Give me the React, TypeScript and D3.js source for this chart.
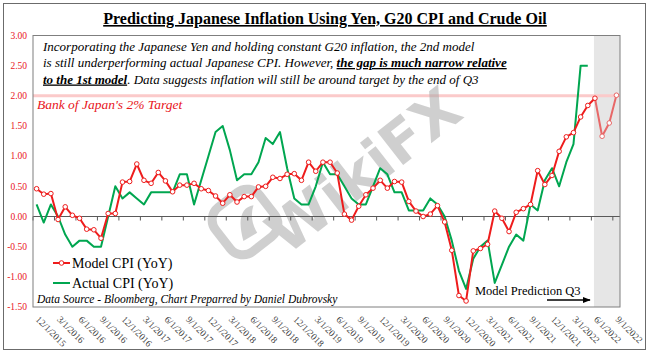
import React from 'react';
import * as d3 from 'd3';

// ---------- DATA ----------
const months = d3.timeMonth.range(new Date(2015, 11, 1), new Date(2022, 9, 1));
const categories: string[] = months.map(d => `${d.getMonth() + 1}/1/${d.getFullYear()}`);

const modelCPI: number[] = [
  0.46, 0.37, 0.38, -0.05, 0.16, 0.02, -0.03, -0.21, -0.22, -0.36, 0.05, 0.05,
  0.57, 0.58, 0.87, 0.60, 0.55, 0.73, 0.59, 0.41, 0.52, 0.52, 0.55, 0.46,
  0.43, 0.34, 0.22, 0.36, 0.24, 0.33, 0.33, 0.49, 0.50, 0.65, 0.63, 0.70,
  0.71, 0.60, 0.90, 0.75, 0.90, 0.90, 0.72, 0.04, -0.06, 0.17, 0.36, 0.47,
  0.60, 0.47, 0.58, 0.57, 0.25, 0.09, 0.00, 0.04, 0.18, -0.09, -0.56, -1.31,
  -1.40, -0.57, -0.53, -0.46, 0.09, -0.03, -0.25, 0.07, 0.13, 0.20, 0.76, 0.53,
  0.68, 1.08, 1.32, 1.39, 1.65, 1.84, 1.96, 1.33, 1.55, 2.01,
];

const actualCPI: number[] = [
  0.2, -0.1, 0.2, 0.0, -0.3, -0.5, -0.4, -0.4, -0.5, -0.5, 0.0, 0.5,
  0.3, 0.4, 0.3, 0.2, 0.4, 0.4, 0.4, 0.4, 0.7, 0.7, 0.2, 0.6,
  1.0, 1.4, 1.5, 1.1, 0.6, 0.7, 0.7, 0.9, 1.3, 1.2, 1.4, 0.8,
  0.3, 0.2, 0.2, 0.5, 0.9, 0.7, 0.7, 0.5, 0.3, 0.2, 0.2, 0.5,
  0.8, 0.7, 0.4, 0.4, 0.1, 0.1, 0.1, 0.3, 0.2, 0.0, -0.4, -0.9,
  -1.2, -0.7, -0.5, -0.4, -1.1, -0.8, -0.5, -0.3, -0.4, 0.2, 0.1, 0.6,
  0.8, 0.5, 0.9, 1.2, 2.5, 2.5,
];

const yTicks: number[] = [3, 2.5, 2, 1.5, 1, 0.5, 0, -0.5, -1, -1.5];
const tickLabels: string[] = categories.filter((_, i) => i % 3 === 0);
const targetValue = 2;
const predictionStart = 78; // 6/1/2022, last fitted point; after it = prediction

const RED = '#ee1c1c';
const GREEN = '#00a650';
const SERIF = '"Liberation Serif", "Times New Roman", serif';

export default function App() {
  const left = 33, right = 620, top = 35.5, bottom = 307;
  const x = d3.scaleBand<number>().domain(d3.range(categories.length)).range([left, right]).paddingInner(0).paddingOuter(0);
  const bw = x.bandwidth();
  const cx = (i: number) => (x(i) as number) + bw / 2;
  const y = d3.scaleLinear().domain([-1.5, 3]).range([bottom, top]);

  const line = d3.line<[number, number]>().x(d => cx(d[0])).y(d => y(d[1]));
  const modelFit = modelCPI.slice(0, predictionStart + 1).map((v, i) => [i, v] as [number, number]);
  const modelPred = modelCPI.slice(predictionStart).map((v, i) => [i + predictionStart, v] as [number, number]);
  const actual = actualCPI.map((v, i) => [i, v] as [number, number]);

  const tickIdx = d3.range(0, categories.length, 3);
  const grayStart = cx(predictionStart) - 1;

  return (
    <svg width={649} height={353} style={{ position: 'absolute', left: 0, top: 0, background: '#fff' }} fontFamily={SERIF}>
      <rect x={0} y={0} width={649} height={353} fill="#fff" />
      <rect x={3.5} y={3.5} width={642} height={346} fill="none" stroke="#6b6b6b" strokeWidth={1} />

      {/* title */}
      <text x={325} y={24} textAnchor="middle" fontSize={16} fontWeight="bold" style={{ textDecoration: 'underline' }} fill="#000">
        Predicting Japanese Inflation Using Yen, G20 CPI and Crude Oil
      </text>

      {/* prediction band */}
      <rect x={grayStart} y={top} width={right - grayStart} height={bottom - top} fill="#e6e6e6" />

      {/* target line */}
      <line x1={left} x2={right} y1={y(targetValue)} y2={y(targetValue)} stroke="#fbcaca" strokeWidth={3} />

      {/* watermark */}
      <g opacity={0.55}>
        <text x={365} y={190} textAnchor="middle" fontFamily='"DejaVu Sans", sans-serif' fontWeight="bold" fontSize={58}
          fill="#a9a9a9" transform="rotate(-38 365 172)">WikiFX</text>
        <g transform="rotate(-38 245 222)">
          <rect x={217} y={194} width={56} height={56} rx={16} fill="none" stroke="#a9a9a9" strokeWidth={9} />
          <path d="M232,236 Q245,205 262,214 Q250,222 248,238 Z" fill="#a9a9a9" />
        </g>
      </g>

      {/* zero axis line and ticks */}
      <line x1={left} x2={right} y1={y(0)} y2={y(0)} stroke="#595959" strokeWidth={1} />
      {tickIdx.map(i => (
        <line key={i} x1={x(i) as number} x2={x(i) as number} y1={y(0)} y2={y(0) + 4} stroke="#595959" strokeWidth={1} />
      ))}

      {/* plot border */}
      <rect x={left} y={top} width={right - left} height={bottom - top} fill="none" stroke="#7f7f7f" strokeWidth={1} />

      {/* y labels */}
      {yTicks.map(v => (
        <text key={v} x={27} y={y(v)} dy="0.35em" textAnchor="end" fontSize={9.5} fill="#e8141b">{v.toFixed(2)}</text>
      ))}

      {/* x labels */}
      {tickIdx.map((i, k) => (
        <text key={i} transform={`translate(${cx(i) - 1.5},${320}) rotate(45)`} fontSize={9.5} fill="#404040">{tickLabels[k]}</text>
      ))}

      {/* series */}
      <path d={line(actual) || ''} fill="none" stroke={GREEN} strokeWidth={2} strokeLinejoin="round" />
      <path d={line(modelPred) || ''} fill="none" stroke="#e86868" strokeWidth={2} strokeLinejoin="round" />
      <path d={line(modelFit) || ''} fill="none" stroke={RED} strokeWidth={2} strokeLinejoin="round" />
      {modelCPI.map((v, i) => (
        <circle key={i} cx={cx(i)} cy={y(v)} r={2.3} fill="#fff" stroke={i > predictionStart ? '#e86868' : RED} strokeWidth={1} />
      ))}

      {/* annotations */}
      <text x={43} y={50.5} fontSize={13} fontStyle="italic" fill="#000">
        Incorporating the Japanese Yen and holding constant G20 inflation, the 2nd model
      </text>
      <text x={43} y={67} fontSize={13} fontStyle="italic" fill="#000">
        is still underperforming actual Japanese CPI. However,{' '}
        <tspan fontWeight="bold" style={{ textDecoration: 'underline' }}>the gap is much narrow relative </tspan>
      </text>
      <text x={43} y={83.5} fontSize={13} fontStyle="italic" fill="#000">
        <tspan fontWeight="bold" style={{ textDecoration: 'underline' }}>to the 1st model</tspan>. Data suggests inflation will still be around target by the end of Q3
      </text>
      <text x={37} y={109} fontSize={13.5} fontStyle="italic" fill="#e8141b">Bank of Japan's 2% Target</text>

      {/* legend */}
      <line x1={53} x2={70} y1={263} y2={263} stroke={RED} strokeWidth={2} />
      <circle cx={61.5} cy={263} r={2.3} fill="#fff" stroke={RED} strokeWidth={1} />
      <text x={72} y={268} fontSize={14} fill="#000">Model CPI (YoY)</text>
      <line x1={53} x2={70} y1={283} y2={283} stroke={GREEN} strokeWidth={2} />
      <text x={72} y={288} fontSize={14} fill="#000">Actual CPI (YoY)</text>

      <text x={37} y={303} fontSize={11.5} fontStyle="italic" fill="#000">
        Data Source - Bloomberg, Chart Preparred by Daniel Dubrovsky
      </text>

      <text x={475} y={295} fontSize={12.5} fill="#000">Model Prediction Q3</text>
      <defs>
        <marker id="arr" viewBox="0 0 10 10" refX={9} refY={5} markerWidth={6} markerHeight={6} orient="auto">
          <path d="M0,1 L10,5 L0,9 Z" fill="#000" />
        </marker>
      </defs>
      <line x1={547} x2={590} y1={300} y2={300} stroke="#000" strokeWidth={1.3} markerEnd="url(#arr)" />
    </svg>
  );
}
